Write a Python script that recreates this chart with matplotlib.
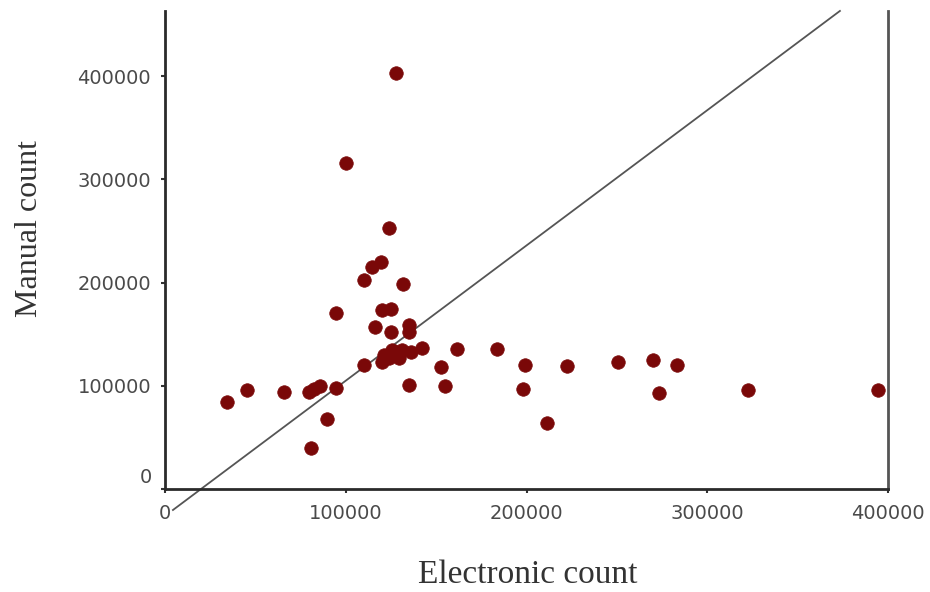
import numpy as np
import matplotlib
matplotlib.use("Agg")
import matplotlib.pyplot as plt

# values
electronic = [128000, 100300, 124100, 114700, 119700, 110200, 131900, 94700,
              120200, 125200, 116300, 125200, 135200, 135200, 110200, 120200,
              124100, 128000, 131300, 136300, 142400, 125800, 121300, 129600,
              161800, 183900, 152900, 199400, 222200, 250400, 269800, 283100,
              135200, 155100, 197800, 273100, 322400, 394500, 211100, 34300,
              45400, 65900, 79800, 85900, 94700, 89800, 80900, 82500]
manual = [402900, 315300, 252800, 215000, 219900, 202400, 198500, 170500,
          173400, 174300, 156900, 152100, 158800, 152100, 120100, 123000,
          126900, 132700, 134600, 132700, 136600, 134600, 129800, 126900,
          135600, 135600, 118200, 120100, 119100, 123000, 124900, 120100,
          100700, 99800, 96900, 93000, 95900, 95900, 63900, 84300,
          95900, 93900, 93900, 99800, 97800, 67800, 39700, 96500]

fit_slope = 1.31
fit_intercept = -26100
fit_x = [4400, 373400]

xticks = [0, 100000, 200000, 300000, 400000]
yticks = [0, 100000, 200000, 300000, 400000]

fig = plt.figure(figsize=(9.3, 5.92), dpi=100)
ax = fig.add_axes([165 / 930, 1 - 489 / 592, (888 - 165) / 930, (489 - 11) / 592])

fx = np.array(fit_x)
ax.plot(fx, fit_slope * fx + fit_intercept, color="#555555", lw=1.3,
        clip_on=False, zorder=2)
ax.scatter(electronic, manual, s=95, color="#7a0808", edgecolors="#7a0808",
           linewidths=0.5, zorder=3, clip_on=False)

ax.set_xlim(0, 400000)
ax.set_ylim(0, 463000)

ax.spines["top"].set_visible(False)
for side in ["left", "bottom"]:
    ax.spines[side].set_linewidth(2)
    ax.spines[side].set_color("#2a2a2a")
ax.spines["right"].set_linewidth(2)
ax.spines["right"].set_color("#555555")

ax.set_xticks(xticks)
ax.set_xticklabels([str(v) for v in xticks])
ax.set_yticks(yticks)
ax.set_yticklabels([""] + [str(v) for v in yticks[1:]])
ax.tick_params(axis="both", direction="out", length=3, width=1.5,
               color="#333333", labelsize=14, labelcolor="#4a4a4a")
ax.tick_params(axis="x", pad=8)
ax.tick_params(axis="y", pad=7)
ax.text(-7200, 11600, "0", ha="right", va="center", fontsize=14,
        color="#4a4a4a")

ax.set_xlabel("Electronic count", va="center", family="Liberation Serif",
              fontsize=24, color="#333333")
ax.set_ylabel("Manual count", va="center", family="Liberation Serif",
              fontsize=23, color="#333333")
ax.xaxis.set_label_coords(0.502, -0.18)
ax.yaxis.set_label_coords(-0.187, 0.546)

fig.savefig("out.png", dpi=100, facecolor="white")
